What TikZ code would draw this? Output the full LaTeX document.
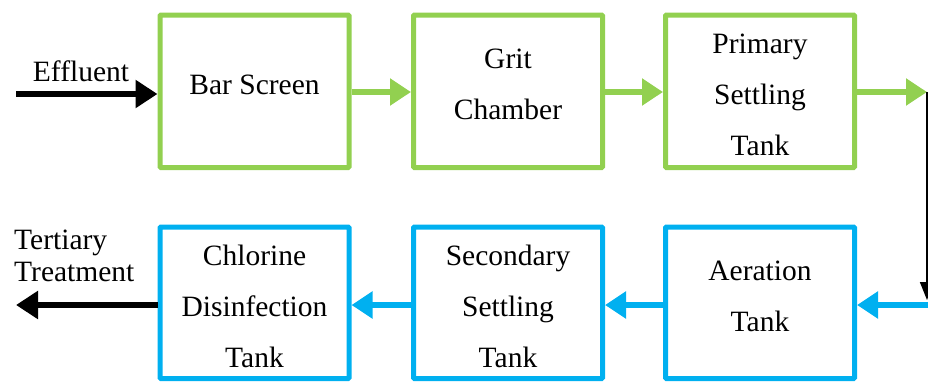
\documentclass[tikz,border=0pt]{standalone}
\usepackage{fontspec}
\setmainfont{Liberation Serif}
\usetikzlibrary{arrows.meta}
\definecolor{pgreen}{HTML}{92D050}
\definecolor{pblue}{HTML}{00B0F0}
\begin{document}
\begin{tikzpicture}[x=1pt,y=-1pt,
  gbox/.style={draw=pgreen,line width=5pt,minimum width=189pt,minimum height=152.5pt,inner sep=0pt,rounded corners=1pt},
  bbox/.style={draw=pblue,line width=5pt,minimum width=189pt,minimum height=151.5pt,inner sep=0pt,rounded corners=1pt},
  lbl/.style={align=center,font=\fontsize{29.5}{51}\selectfont,inner sep=0pt},
  garrow/.style={draw=pgreen,line width=5.5pt,-{Triangle[length=21pt,width=26pt]}},
  barrow/.style={draw=pblue,line width=5.5pt,-{Triangle[length=21pt,width=26pt]}},
  karrow/.style={draw=black,line width=5.5pt,-{Triangle[length=22pt,width=27pt]}},
  thin/.style={draw=black,line width=1.6pt,-{Triangle[length=18pt,width=14pt]}}]
\useasboundingbox (0,0) rectangle (928,381);
% top row
\node[gbox] (bar) at (254.5,91.25) {};
\node[gbox] (grit) at (508,91.25) {};
\node[gbox] (prim) at (760,91.25) {};
% bottom row
\node[bbox] (chl) at (254.5,302.75) {};
\node[bbox] (sec) at (508,302.75) {};
\node[bbox] (aer) at (760,302.75) {};
% labels
\node[lbl] (tbar) at (254.5,85) {Bar Screen};
\node[lbl] (tgrit) at (508,84) {Grit\\Chamber};
\node[lbl] (tprim) at (760,95) {Primary\\Settling\\Tank};
\node[lbl] (tchl) at (254.5,306) {Chlorine\\Disinfection\\Tank};
\node[lbl] (tsec) at (508,306) {Secondary\\Settling\\Tank};
\node[lbl] (taer) at (760,296) {Aeration\\Tank};
\node[lbl,font=\fontsize{29.5}{32}\selectfont] (teff) at (81,71) {Effluent};
\node[lbl,font=\fontsize{29.5}{32}\selectfont,align=left,anchor=west] (tter) at (14,256) {Tertiary\\Treatment};
% coordinates
\coordinate (ein) at (16,94);
\coordinate (tout) at (16,305);
\coordinate (rtop) at (927,92);
\coordinate (rbot) at (927,300);
\coordinate (rin) at (929,305);
% arrows
\draw[karrow] (ein) -- (bar.west |- ein);
\draw[garrow] (bar.east |- 0,92) -- (grit.west |- 0,92);
\draw[garrow] (grit.east |- 0,92) -- (prim.west |- 0,92);
\draw[garrow] (prim.east |- 0,92) -- (rtop);
\draw[thin] (rtop) -- (rbot);
\draw[barrow] (rin) -- (aer.east |- rin);
\draw[barrow] (aer.west |- rin) -- (sec.east |- rin);
\draw[barrow] (sec.west |- rin) -- (chl.east |- rin);
\draw[karrow] (chl.west |- tout) -- (tout);
\end{tikzpicture}
\end{document}
